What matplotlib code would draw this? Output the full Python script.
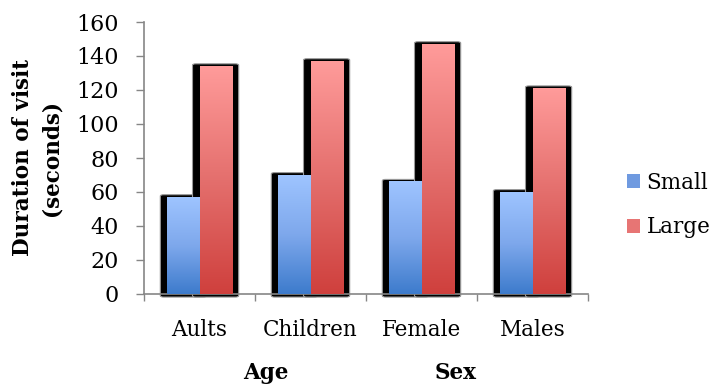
import matplotlib.pyplot as plt
import numpy as np
from matplotlib.colors import LinearSegmentedColormap
from matplotlib.patches import FancyBboxPatch, Patch

# ---------------------------------------------
# data
# ---------------------------------------------

categories = ["Aults", "Children", "Female", "Males"]
groups = ["Age", "Sex"]
small = [57, 70, 66, 60]
large = [134, 137, 147, 121]
series_names = ["Small", "Large"]

# ---------------------------------------------
# style
# ---------------------------------------------

plt.rcParams["font.family"] = ["DejaVu Serif", "Liberation Serif"]
FS = 15.5

blue_cmap = LinearSegmentedColormap.from_list("blue", ["#3d7bcc", "#7ea8ec", "#9ec4ff"])
red_cmap = LinearSegmentedColormap.from_list("red", ["#cf403d", "#e46f6d", "#ff9b9a"])

fig = plt.figure(figsize=(7.14, 3.86), dpi=100)
ax = fig.add_axes([144 / 714, 92 / 386, 444 / 714, 272 / 386])

x = np.arange(len(categories))
width = 0.29

bars_small = ax.bar(x - width / 2, small, width, color="none", zorder=3)
bars_large = ax.bar(x + width / 2, large, width, color="none", zorder=3)

# black rounded shadow behind every bar
pad_x = 0.063
for bar in list(bars_small) + list(bars_large):
    x0, w, h = bar.get_x(), bar.get_width(), bar.get_height()
    shadow = FancyBboxPatch(
        (x0 - pad_x, -1.8), w + 2 * pad_x, h + 1.8 + 1.4,
        boxstyle="round,pad=0,rounding_size=0.03",
        mutation_aspect=25,
        facecolor="black", edgecolor="#9a9a9a", linewidth=0.8,
        zorder=2, clip_on=False,
    )
    ax.add_patch(shadow)

# vertical gradient fill inside each bar
grad = np.linspace(0, 1, 256).reshape(-1, 1)
for bars, cmap in [(bars_small, blue_cmap), (bars_large, red_cmap)]:
    for bar in bars:
        x0, w, h = bar.get_x(), bar.get_width(), bar.get_height()
        ax.imshow(grad, cmap=cmap, origin="lower", aspect="auto",
                  extent=(x0, x0 + w, 0, h), zorder=3, interpolation="bilinear")

ax.set_xlim(-0.5, len(categories) - 0.5)
ax.set_ylim(0, 160)
ax.set_yticks(np.arange(0, 161, 20))

ax.set_xticks(x)
ax.set_xticklabels(categories, fontsize=FS)
ax.set_xticks(np.arange(-0.5, len(categories), 1), minor=True)
ax.tick_params(axis="x", which="major", length=0, pad=18)
ax.tick_params(axis="x", which="minor", length=5, color="#868686", width=1)
ax.tick_params(axis="y", labelsize=FS + 0.5, length=6, color="#868686", width=1, pad=12)

for side in ["top", "right"]:
    ax.spines[side].set_visible(False)
for side in ["left", "bottom"]:
    ax.spines[side].set_color("#868686")
    ax.spines[side].set_linewidth(1.2)

ax.set_ylabel("Duration of visit\n(seconds)", fontsize=FS, fontweight="bold",
              linespacing=1.4, labelpad=10)

# group labels below the category labels
for gx, name in zip([0.6, 2.31], groups):
    ax.text(gx, -0.29, name, transform=ax.get_xaxis_transform(),
            ha="center", va="center", fontsize=FS, fontweight="bold")

handles = [Patch(facecolor="#6f9ae0", edgecolor="none"),
           Patch(facecolor="#e77574", edgecolor="none")]
fig.legend(handles, series_names, loc="center left",
           bbox_to_anchor=(627 / 714, 1 - 205 / 386), frameon=False,
           borderpad=0, borderaxespad=0,
           fontsize=FS, handlelength=0.6, handleheight=0.6,
           handletextpad=0.3, labelspacing=1.05)

fig.savefig("out.png", dpi=100)
